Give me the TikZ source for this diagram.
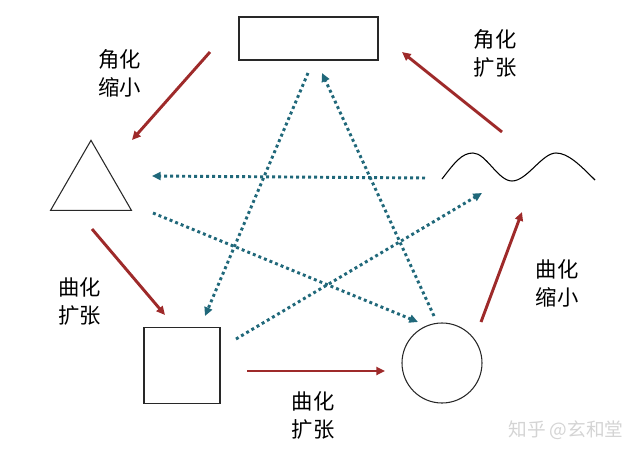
\documentclass[tikz,border=0pt]{standalone}
\usepackage{fontspec}
\newfontfamily\cjk{Noto Sans CJK SC}
\usetikzlibrary{arrows.meta,shapes.geometric}

\tikzset{every picture/.style={line width=0.75pt}}
\tikzset{
  redarr/.style={draw={rgb, 255:red, 158; green, 42; blue, 42 }, line width=2.2pt, -{Triangle[length=6.5pt,width=6pt]}},
  tealarr/.style={draw={rgb, 255:red, 32; green, 104; blue, 122 }, line width=2.2pt, dash pattern=on 2.2pt off 2.3pt, -{Triangle[length=6.5pt,width=6pt]}},
  lbl/.style={anchor=center, inner sep=0.75pt, align=center, font=\cjk\fontsize{16}{21}\selectfont},
  outline/.style={draw={rgb, 255:red, 40; green, 40; blue, 40 }, line width=1pt, inner sep=0pt, outer sep=0pt}
}

\begin{document}
\begin{tikzpicture}[x=0.75pt,y=0.75pt,yscale=-1,xscale=1]
    \useasboundingbox (0,0) rectangle (640,461);

    %Shape: Rectangle [id:rect]
    \node [outline, rectangle, minimum width=104.25pt, minimum height=32.25pt] (rect) at (308.5,38.5) {};
    %Shape: Triangle [id:tri]
    \node [outline, line width=0.8pt, regular polygon, regular polygon sides=3, minimum size=70pt] (tri) at (91,187) {};
    %Shape: Square [id:sq]
    \node [outline, rectangle, minimum size=57pt] (sq) at (182,365.5) {};
    %Shape: Circle [id:circ]
    \node [outline, line width=0.8pt, circle, minimum size=60pt] (circ) at (442,363) {};
    %Shape: Wave [id:wave]
    \draw [line width=0.8pt] (442,179) .. controls (455,162) and (462,153) .. (473,153) .. controls (486,153) and (498,181) .. (512,181) .. controls (527,181) and (542,153) .. (556,153) .. controls (568,153) and (580,165) .. (595,180);
    \coordinate (wave) at (518,167);

    % arrow ends
    \coordinate (r1s) at (210,52);   \coordinate (r1e) at (132,140);
    \coordinate (r2s) at (502,132);  \coordinate (r2e) at (402,52);
    \coordinate (r3s) at (92,229);   \coordinate (r3e) at (165,315);
    \coordinate (r4s) at (247,371);  \coordinate (r4e) at (385,371);
    \coordinate (r5s) at (481,322);  \coordinate (r5e) at (522,212);
    \coordinate (t1s) at (425,178);  \coordinate (t1e) at (152,176);
    \coordinate (t2s) at (153,213);  \coordinate (t2e) at (418,322);
    \coordinate (t3s) at (236,339);  \coordinate (t3e) at (482,193);
    \coordinate (t4s) at (308,73);   \coordinate (t4e) at (205,316);
    \coordinate (t5s) at (434,316);  \coordinate (t5e) at (322,73);

    %Straight Lines [id:red arrows]
    \draw [redarr] (r1s) -- (r1e);
    \draw [redarr] (r2s) -- (r2e);
    \draw [redarr] (r3s) -- (r3e);
    \draw [redarr] (r4s) -- (r4e);
    \draw [redarr] (r5s) -- (r5e);

    %Straight Lines [id:dotted arrows]
    \draw [tealarr] (t1s) -- (t1e);
    \draw [tealarr] (t2s) -- (t2e);
    \draw [tealarr] (t3s) -- (t3e);
    \draw [tealarr] (t4s) -- (t4e);
    \draw [tealarr] (t5s) -- (t5e);

    % Text Node
    \node [lbl] (lblA) at (120,73) {角化\\缩小};
    % Text Node
    \node [lbl] (lblB) at (495,53) {角化\\扩张};
    % Text Node
    \node [lbl] (lblC) at (80,301) {曲化\\扩张};
    % Text Node
    \node [lbl] (lblD) at (313,415) {曲化\\扩张};
    % Text Node
    \node [lbl] (lblE) at (557,283) {曲化\\缩小};
    % Text Node
    \node [anchor=center, inner sep=0.75pt, text={rgb, 255:red, 212; green, 212; blue, 212 }, font=\cjk\fontsize{14}{16}\selectfont] (mark) at (566,430) {知乎 @玄和堂};

\end{tikzpicture}
\end{document}
